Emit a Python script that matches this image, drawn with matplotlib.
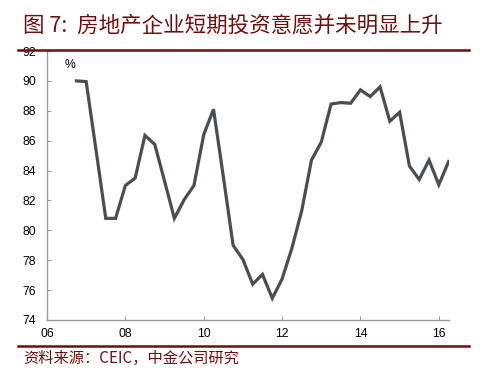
import matplotlib
matplotlib.use("Agg")
import matplotlib.pyplot as plt
from matplotlib.lines import Line2D

plt.rcParams['font.family'] = ['Liberation Sans', 'Noto Sans CJK SC', 'DejaVu Sans']

# quarterly data, 2006Q3 .. 2016Q2 (plotted at quarter end)
start_year = 2006.75
values = [90.0, 89.95, 85.4, 80.8, 80.8, 83.0, 83.5, 86.35, 85.75, 83.3,
          80.8, 82.05, 83.0, 86.4, 88.1, 83.6, 79.0, 78.05, 76.4, 77.05,
          75.45, 76.75, 78.8, 81.3, 84.7, 85.9, 88.45, 88.55, 88.5, 89.4,
          88.95, 89.6, 87.3, 87.9, 84.3, 83.4, 84.7, 83.05, 84.6]
xs = [start_year + 0.25 * i for i in range(len(values))]

xticks = [2006, 2008, 2010, 2012, 2014, 2016]
xticklabels = ['06', '08', '10', '12', '14', '16']
yticks = list(range(74, 93, 2))

title = '图 7:  房地产企业短期投资意愿并未明显上升'
source = '资料来源：CEIC，中金公司研究'
red = '#6e0f0f'

fig = plt.figure(figsize=(4.96, 3.82), dpi=100)
ax = fig.add_axes([47/496, 1-320/382, (449-47)/496, (320-51)/382])
ax.plot(xs, values, color='#4a4e53', lw=2.3, solid_joinstyle='miter')
ax.set_xlim(2006.0, 2016.26)
ax.set_ylim(74, 92)
ax.set_xticks(xticks)
ax.set_xticklabels(xticklabels)
ax.set_yticks(yticks)
for s in ['top', 'right']:
    ax.spines[s].set_visible(False)
for s in ['left', 'bottom']:
    ax.spines[s].set_color('#9a9a9a')
    ax.spines[s].set_linewidth(1.0)
ax.tick_params(direction='in', length=3, color='#9a9a9a', labelsize=8.8, labelcolor='black')
ax.tick_params(axis='y', pad=8)
ax.tick_params(axis='x', pad=6)
ax.text(0.045, 0.97, '%', transform=ax.transAxes, ha='left', va='top', fontsize=8.8)

fig.text(23/496, 1-26/382, title, ha='left', va='center', fontsize=15.5, color=red,
         style='italic', family=['Noto Sans CJK SC', 'DejaVu Sans'])
fig.add_artist(Line2D([18/496, 469/496], [1-50/382, 1-50/382], color=red, lw=1.8,
                      transform=fig.transFigure))
fig.add_artist(Line2D([18/496, 469/496], [1-345.5/382, 1-345.5/382], color=red, lw=1.8,
                      transform=fig.transFigure))
fig.text(23/496, 1-358/382, source, ha='left', va='center', fontsize=11, color=red,
         style='italic', family=['Noto Sans CJK SC', 'DejaVu Sans'])

fig.savefig('out.png', dpi=100)
